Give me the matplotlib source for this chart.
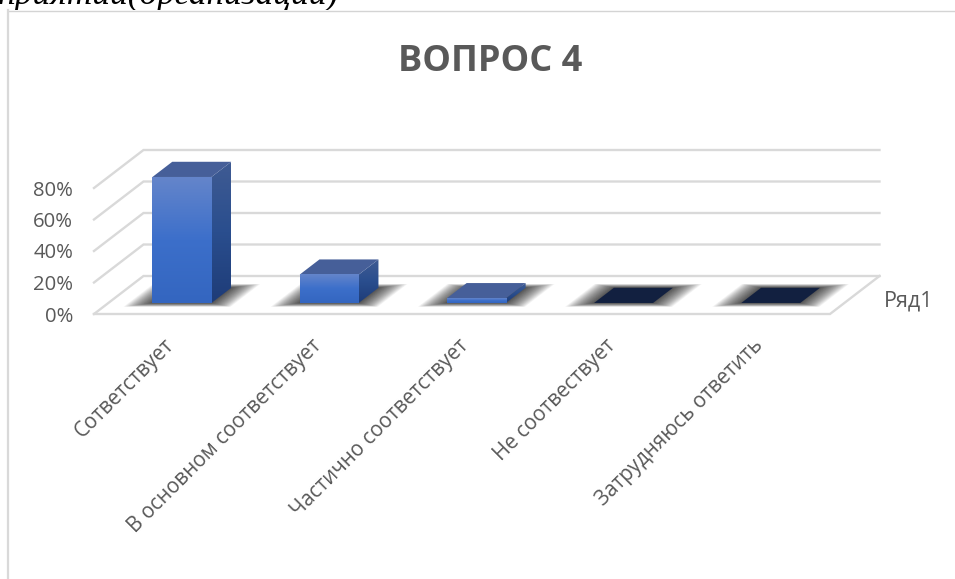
import numpy as np
import matplotlib
matplotlib.use("Agg")
import matplotlib.pyplot as plt
from matplotlib.patches import Polygon, Rectangle
from matplotlib.colors import LinearSegmentedColormap
from matplotlib.transforms import ScaledTranslation

plt.rcParams['font.family'] = ['Open Sans', 'DejaVu Sans']

categories = ["Сответствует", "В основном соответствует", "Частично соответствует",
              "Не соотвествует", "Затрудняюсь ответить"]
values = [0.80, 0.18, 0.03, 0.0, 0.0]
y_ticks = [0.0, 0.2, 0.4, 0.6, 0.8]
y_tick_labels = ["0%", "20%", "40%", "60%", "80%"]
series_name = "Ряд1"
chart_title = "ВОПРОС 4"
doc_text = "приятий(организаций)"

W, H = 955, 579
fig = plt.figure(figsize=(W / 100, H / 100), dpi=100, facecolor="white")

# page / chart frame
bg = fig.add_axes([0, 0, 1, 1], zorder=0)
bg.set_xlim(0, W); bg.set_ylim(H, 0); bg.axis("off")
bg.plot([8, 955], [10.5, 10.5], color="#d4d4d4", lw=1.0)
bg.plot([8, 8], [10, 579], color="#d9d9d9", lw=1.6)
t = bg.text(-2, 4, doc_text, family="Liberation Serif", style="italic",
            fontsize=25.5, color="black", ha="left", va="baseline")
t.set_clip_path(Rectangle((0, 0), W, 10, transform=bg.transData))
t.set_clip_on(True)
bg.text(490, 62, chart_title, fontsize=26, fontweight="bold", color="#595959",
        ha="center", va="center")

# chart axes: x = category slots, y = value, front wall of the floor
x0, x1, y0_px, y80_px = 94, 830, 314, 188
ax = fig.add_axes([x0 / W, 1 - y0_px / H, (x1 - x0) / W, (y0_px - y80_px) / 0.8 / H * 1.0], zorder=1)
ax.set_xlim(0, len(categories))
ax.set_ylim(0, 1)
ax.patch.set_alpha(0)
for s in ax.spines.values():
    s.set_visible(False)

slot_px = (x1 - x0) / len(categories)
unit_px = (y0_px - y80_px) / 0.8
DX = 49.5 / slot_px       # full floor depth in x data units
DY = 38.0 / unit_px       # full floor depth in y data units
bar_w = 59 / slot_px
z_front, z_back = 0.29, 0.69

grid_c = "#d9d9d9"
n = len(categories)
for v in y_ticks:
    ax.plot([0, DX, n + DX], [v, v + DY, v + DY], color=grid_c, lw=1.7, clip_on=False, zorder=1,
            solid_joinstyle="miter")
ax.plot([0, n, n + DX], [0, 0, DY], color=grid_c, lw=1.7, clip_on=False, zorder=1,
        solid_joinstyle="miter")

ax.set_yticks(y_ticks)
ax.set_yticklabels(y_tick_labels, fontsize=14.6, color="#595959")
ax.tick_params(axis="y", length=0, pad=15)
ax.set_xticks(np.arange(n) + 0.5)
ax.set_xticklabels(categories, rotation=45, ha="right", rotation_mode="anchor",
                   fontsize=14.9, color="#595959")
ax.tick_params(axis="x", length=0, pad=15)
shift = ScaledTranslation(-4 / 100, 0, fig.dpi_scale_trans)
for lab in ax.get_xticklabels():
    lab.set_transform(lab.get_transform() + shift)
ax.text(n + DX + 4 / slot_px, DY * 0.35, series_name, fontsize=15.5, color="#595959",
        ha="left", va="center", clip_on=False)

front_cm = LinearSegmentedColormap.from_list("f", ["#6485cb", "#3c6fca", "#3466c0"])
side_cm = LinearSegmentedColormap.from_list("s", ["#3f5b93", "#2a4e8e", "#1e3c78"])
ramp = np.linspace(0, 1, 128).reshape(-1, 1)


def footprint(left, right, z_a, z_b, v):
    return [(left + z_a * DX, v + z_a * DY), (right + z_a * DX, v + z_a * DY),
            (right + z_b * DX, v + z_b * DY), (left + z_b * DX, v + z_b * DY)]


for i, v in enumerate(values):
    c = i + 0.5
    left, right = c - bar_w / 2, c + bar_w / 2
    # soft floor shadow: stacked, growing footprints, densest near the bar
    steps = 30
    for k in range(steps, 0, -1):
        f = (k / steps) ** 1.35
        grow_x = f * 24 / slot_px
        grow_z = f * 0.10
        p = footprint(left - grow_x, right + grow_x, z_front - grow_z, z_back + grow_z, 0)
        ax.add_patch(Polygon(p, closed=True, fc="#383838", ec="none", alpha=0.055,
                             clip_on=False, zorder=2))
    if v <= 0:
        ax.add_patch(Polygon(footprint(left, right, z_front, z_back, 0), closed=True,
                             fc="#122040", ec="none", clip_on=False, zorder=4))
        continue
    # right side
    ybase = z_front * DY
    side = [(right + z_front * DX, ybase), (right + z_back * DX, z_back * DY),
            (right + z_back * DX, v + z_back * DY), (right + z_front * DX, v + ybase)]
    poly = Polygon(side, closed=True, fc="none", ec="none", clip_on=False, zorder=4)
    ax.add_patch(poly)
    im = ax.imshow(ramp, cmap=side_cm, aspect="auto", zorder=4, origin="upper",
                   extent=(right + z_front * DX, right + z_back * DX, z_front * DY, v + z_back * DY))
    im.set_clip_path(poly)
    # top
    ax.add_patch(Polygon(footprint(left, right, z_front, z_back, v), closed=True,
                         fc="#465f99", ec="none", clip_on=False, zorder=5))
    # front
    im2 = ax.imshow(ramp, cmap=front_cm, aspect="auto", zorder=6, origin="upper",
                    extent=(left + z_front * DX, right + z_front * DX, ybase, v + ybase),
                    clip_on=False)

ax.set_xlim(0, n)
ax.set_ylim(0, 1)
fig.savefig("out.png", dpi=100)
